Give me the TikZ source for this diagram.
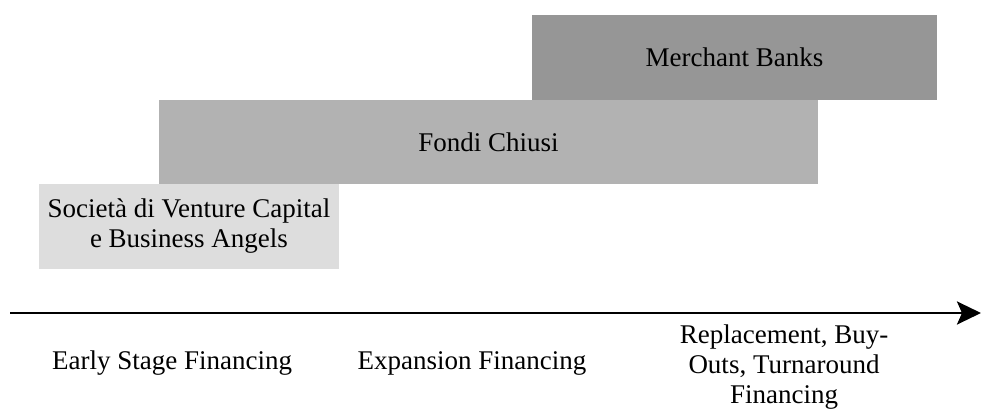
\documentclass[tikz,border=0pt]{standalone}
\usepackage{fontspec}
\setmainfont{Liberation Serif}
\usetikzlibrary{arrows.meta,positioning}

\begin{document}
\begin{tikzpicture}[
    % GLOBAL CFG
    x=1pt, y=1pt,
    font=\fontsize{27}{30}\selectfont,
    >={Stealth[length=24pt,width=23pt,inset=5pt]},
    % Styles
    stage/.style={% For the coloured bands
        rectangle,
        inner sep=0pt,
        minimum height=85pt,
        align=center,
        },
    phase/.style={% For the labels under the axis
        align=center,
        inner sep=0pt,
        },
    axis/.style={% The time line
        line width=2.8pt,
        },
    ]

    % Canvas
    \useasboundingbox (0,0) rectangle (981,410);

    % Draw the bands named by operator
    \node [stage, minimum width=405pt, fill={rgb,255:red,150;green,150;blue,150}] (merchant) at (734.5,352.5) {Merchant Banks};
    \node [stage, minimum width=659pt, minimum height=84pt, fill={rgb,255:red,178;green,178;blue,178}] (fondi) at (488.5,268) {Fondi Chiusi};
    \node [stage, minimum width=300pt, fill={rgb,255:red,221;green,221;blue,221}] (societa) at (189,183.5) {Società di Venture Capital\\e Business Angels};

    % Time line
    \coordinate (start) at (10,97);
    \coordinate (end) at (981,97);
    \draw [->, axis] (start) -- (end);

    % Phases
    \node [phase] (early) at (172,47) {Early Stage Financing};
    \node [phase] (expansion) at (472,47) {Expansion Financing};
    \node [phase] (replacement) at (784,43) {Replacement, Buy-\\Outs, Turnaround\\Financing};

\end{tikzpicture}
\end{document}
